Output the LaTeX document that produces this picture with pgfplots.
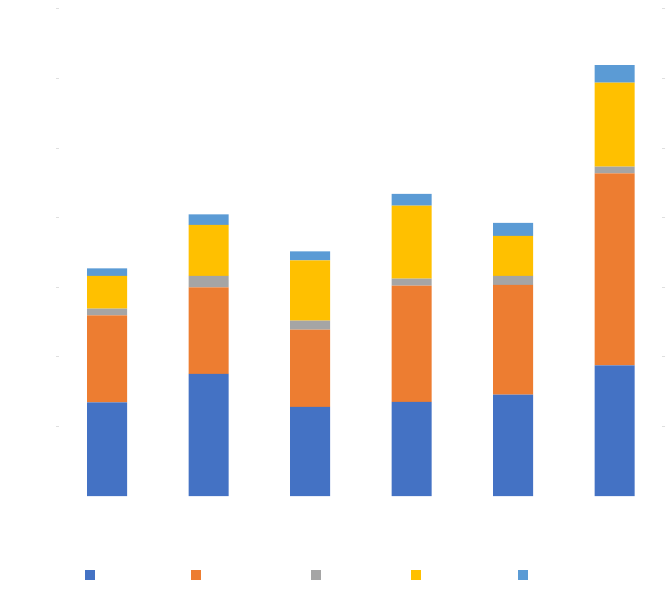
\documentclass[border=0pt]{standalone}
\usepackage{pgfplots}
\pgfplotsset{compat=1.18}
\definecolor{c1}{HTML}{4472C4}
\definecolor{c2}{HTML}{ED7D31}
\definecolor{c3}{HTML}{A5A5A5}
\definecolor{c4}{HTML}{FFC000}
\definecolor{c5}{HTML}{5B9BD5}
\begin{document}
\begin{tikzpicture}
\path[use as bounding box] (0pt,0pt) rectangle (667pt,590pt);
\begin{axis}[
  at={(56.25pt,94pt)}, anchor=south west,
  scale only axis, width=609pt, height=487.3pt,
  xmin=-0.5, xmax=5.5, ymin=0, ymax=7,
  ybar stacked, bar width=40pt,
  axis line style={draw=none},
  xtick=\empty, ytick={1,2,3,4,5,6,7}, yticklabels={},
  tick style={gray!25, line width=0.6pt}, major tick length=3pt,
  ytick pos=both, tick align=inside,
  legend columns=5,
  legend style={at={(0.0472,-0.1621)}, anchor=west, draw=none, fill=none,
    inner sep=0pt, column sep=0pt, nodes={inner sep=0pt, outer sep=0pt}},
]
\addplot[fill=c1, draw=none, legend image code/.code={\fill[c1] (0pt,-5pt) rectangle (10pt,5pt);}]
  coordinates {(0,1.345) (1,1.753) (2,1.279) (3,1.351) (4,1.456) (5,1.876)};
\addplot[fill=c2, draw=none, legend image code/.code={\fill[c2] (0pt,-5pt) rectangle (10pt,5pt);}]
  coordinates {(0,1.250) (1,1.245) (2,1.111) (3,1.671) (4,1.576) (5,2.760)};
\addplot[fill=c3, draw=none, legend image code/.code={\fill[c3] (0pt,-5pt) rectangle (10pt,5pt);}]
  coordinates {(0,0.096) (1,0.163) (2,0.129) (3,0.100) (4,0.129) (5,0.096)};
\addplot[fill=c4, draw=none, legend image code/.code={\fill[c4] (0pt,-5pt) rectangle (10pt,5pt);}]
  coordinates {(0,0.470) (1,0.733) (2,0.867) (3,1.049) (4,0.575) (5,1.207)};
\addplot[fill=c5, draw=none, legend image code/.code={\fill[c5] (0pt,-5pt) rectangle (10pt,5pt);}]
  coordinates {(0,0.109) (1,0.153) (2,0.129) (3,0.168) (4,0.187) (5,0.249)};
\legend{\rule{96pt}{0pt},\rule{110pt}{0pt},\rule{90pt}{0pt},\rule{97pt}{0pt},\rule{10pt}{0pt}}
\end{axis}
\end{tikzpicture}
\end{document}
